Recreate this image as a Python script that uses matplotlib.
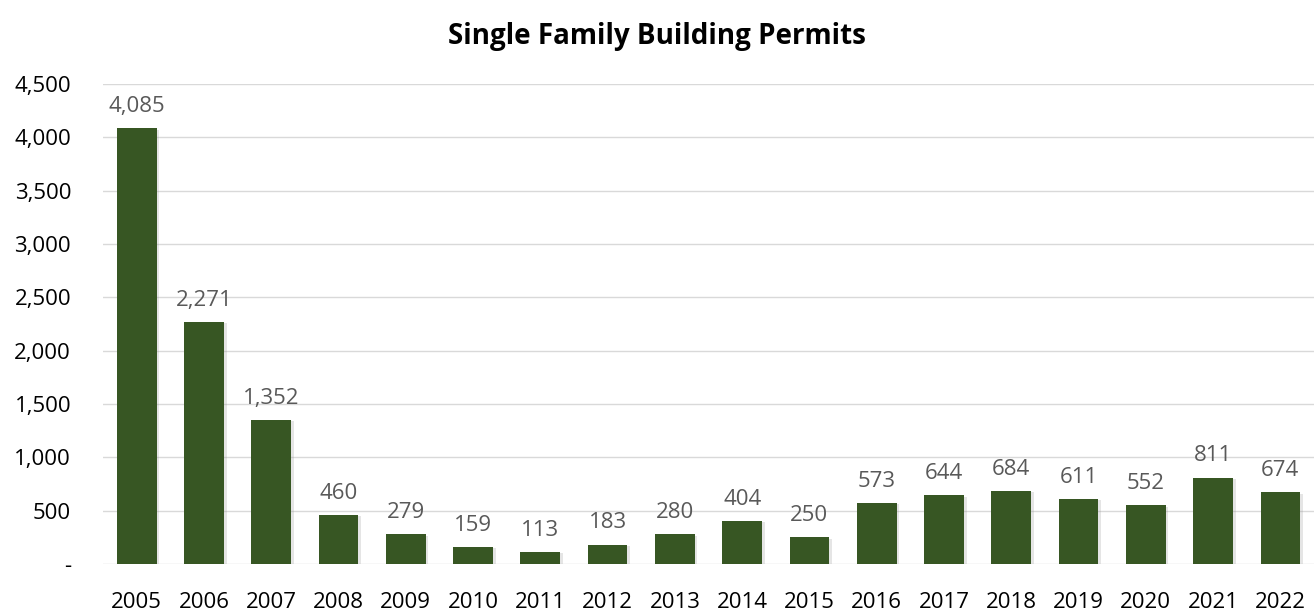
import matplotlib
matplotlib.use('Agg')
import matplotlib.pyplot as plt
import matplotlib.patheffects as pe
from matplotlib.ticker import FuncFormatter

plt.rcParams['font.family'] = ['Open Sans', 'DejaVu Sans']

years = ['2005', '2006', '2007', '2008', '2009', '2010', '2011', '2012', '2013',
         '2014', '2015', '2016', '2017', '2018', '2019', '2020', '2021', '2022']
permits = [4085, 2271, 1352, 460, 279, 159, 113, 183, 280,
           404, 250, 573, 644, 684, 611, 552, 811, 674]

BAR = '#375623'
GRID = '#D9D9D9'

fig = plt.figure(figsize=(13.14, 6.14), dpi=100)
ax = fig.add_axes([0.0784, 0.0814, 0.9216, 0.7816])

x = list(range(len(years)))
bars = ax.bar(x, permits, width=0.59, color=BAR, zorder=3)
for b in bars:
    b.set_path_effects([pe.SimplePatchShadow(offset=(2, -1), shadow_rgbFace='#999999', alpha=0.25),
                        pe.Normal()])

for xi, v in zip(x, permits):
    ax.annotate(f'{v:,}', (xi, v), xytext=(0, 8), textcoords='offset points',
                ha='center', va='bottom', fontsize=16, color='#595959')

ax.set_xlim(-0.5, len(years) - 0.5)
ax.set_ylim(0, 4500)
ax.set_yticks(range(0, 4501, 500))
ax.yaxis.set_major_formatter(FuncFormatter(lambda v, p: '-' if v == 0 else f'{int(v):,}'))
ax.set_xticks(x)
ax.set_xticklabels(years)
ax.tick_params(axis='both', length=0, labelsize=16, colors='black')
ax.tick_params(axis='y', pad=23)
ax.tick_params(axis='x', pad=20)
ax.grid(axis='y', color=GRID, lw=1, zorder=0)
for s in ax.spines.values():
    s.set_visible(False)

fig.text(0.5, 0.94, 'Single Family Building Permits', ha='center', va='center',
         fontsize=20, fontweight='bold')

fig.savefig('out.png', dpi=100, facecolor='white')
